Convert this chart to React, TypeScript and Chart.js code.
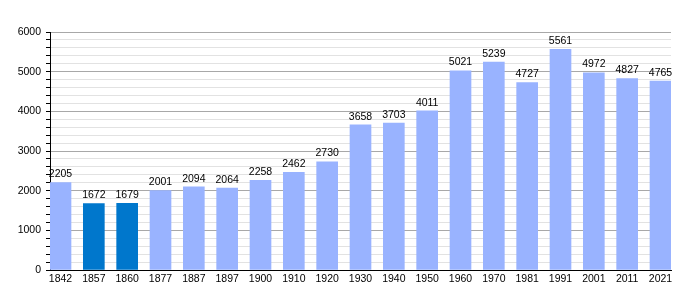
import React, { useEffect, useRef } from "react";
import { Chart, registerables } from "chart.js";

Chart.register(...registerables);

const years = ["1842","1857","1860","1877","1887","1897","1900","1910","1920","1930","1940","1950","1960","1970","1981","1991","2001","2011","2021"];
const population = [2205,1672,1679,2001,2094,2064,2258,2462,2730,3658,3703,4011,5021,5239,4727,5561,4972,4827,4765];
const highlighted = ["1857","1860"];
const yTickLabels = [0,1000,2000,3000,4000,5000,6000];

const FONT = "'Liberation Sans', Arial, sans-serif";

const labelPlugin = {
  id: "barLabels",
  afterDatasetsDraw(chart: any) {
    const ctx = chart.ctx;
    const meta = chart.getDatasetMeta(0);
    ctx.save();
    ctx.font = `10.5px ${FONT}`;
    ctx.fillStyle = "#000";
    ctx.textAlign = "center";
    ctx.textBaseline = "bottom";
    meta.data.forEach((bar: any, i: number) => {
      ctx.fillText(String(population[i]), bar.x, bar.y - 3);
    });
    ctx.restore();
  },
};

export default function App() {
  const ref = useRef<HTMLCanvasElement>(null);
  useEffect(() => {
    if (!ref.current) return;
    const chart = new Chart(ref.current, {
      type: "bar",
      data: {
        datasets: [
          {
            data: population.map((v, i) => ({ x: i, y: v })),
            backgroundColor: years.map((y) => (highlighted.includes(y) ? "#0077cc" : "#99b3ff")),
            barThickness: 21,
            borderWidth: 0,
          },
        ],
      },
      plugins: [labelPlugin],
      options: {
        animation: false,
        responsive: false,
        maintainAspectRatio: false,
        layout: { padding: { top: 32, right: 29, left: 0, bottom: 0 } },
        plugins: { legend: { display: false }, tooltip: { enabled: false } },
        scales: {
          x: {
            type: "linear",
            offset: false,
            min: -0.315,
            max: 18.315,
            grid: { display: false, drawTicks: false },
            border: { color: "#000", width: 1 },
            ticks: {
              stepSize: 1,
              includeBounds: false,
              autoSkip: false,
              maxRotation: 0,
              padding: 3,
              color: "#000",
              font: { family: FONT, size: 10.5 },
              callback: (v: any) => (Number.isInteger(v) ? years[v] ?? "" : ""),
            },
            afterFit: (s: any) => { s.height = 30; },
          },
          y: {
            min: 0,
            max: 6000,
            grid: {
              color: (c: any) => (c.tick && c.tick.value % 1000 === 0 ? "#a8a8a8" : "#e2e2e2"),
              tickColor: "#000",
              tickLength: 4,
              lineWidth: 1,
            },
            border: { color: "#000", width: 1 },
            ticks: {
              stepSize: 200,
              autoSkip: false,
              padding: 5,
              color: "#000",
              font: { family: FONT, size: 10.5 },
              callback: (v: any) => (yTickLabels.includes(v) ? String(v) : ""),
            },
            afterFit: (s: any) => { s.width = 50; },
          },
        },
      },
    });
    return () => chart.destroy();
  }, []);
  return (
    <div style={{ position: "fixed", left: 0, top: 0, width: 700, height: 300, background: "#fff" }}>
      <canvas ref={ref} width={700} height={300} style={{ width: 700, height: 300 }} />
    </div>
  );
}
